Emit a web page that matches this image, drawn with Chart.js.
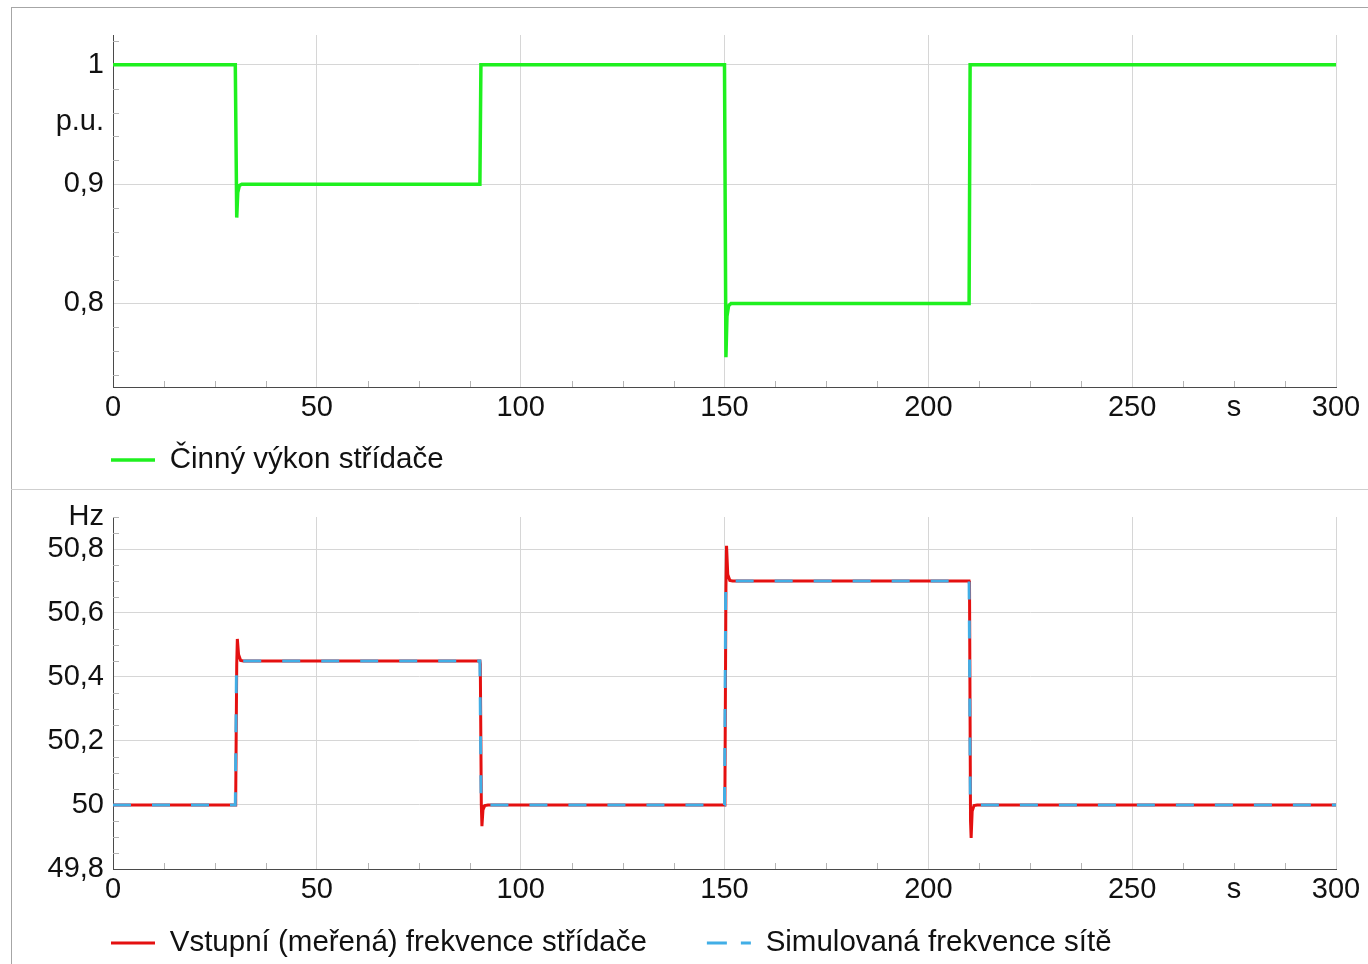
<!DOCTYPE html>
<html><head><meta charset="utf-8">
<script src="https://cdn.jsdelivr.net/npm/chart.js@4"></script>
<style>
html,body{margin:0;padding:0;background:#fff;width:1368px;height:964px;overflow:hidden;}
#frame{position:absolute;left:11px;top:7px;width:1357px;height:957px;border-left:1px solid #a6a6a6;border-top:1px solid #a6a6a6;box-sizing:border-box;}
#divider{position:absolute;left:11px;top:489px;width:1357px;height:0;border-top:1px solid #cfcfcf;}
#c1{position:absolute;left:12px;top:8px;}
#c2{position:absolute;left:12px;top:490px;}
</style></head><body>
<div id="frame"></div><div id="divider"></div>
<canvas id="c1" width="1356" height="481"></canvas>
<canvas id="c2" width="1356" height="474"></canvas>
<script>
// ---- data ----
const timeP  = [0, 30, 30.35, 30.6, 31, 31.6, 90, 90.25, 150, 150.35, 150.6, 151, 151.6, 210, 210.25, 300];
const powerP = [1, 1, 0.872, 0.893, 0.899, 0.9, 0.9, 1, 1, 0.755, 0.789, 0.798, 0.8, 0.8, 1, 1];

const timeMeas = [0, 30, 30.1, 30.35, 30.5, 30.8, 31.3, 32,
                  90, 90.1, 90.35, 90.5, 90.75, 91.2, 92,
                  150, 150.1, 150.35, 150.5, 150.8, 151.3, 152,
                  210, 210.1, 210.35, 210.5, 210.75, 211.2, 212, 300];
const freqMeas = [50, 50, 50.02, 50.44, 50.519, 50.47, 50.452, 50.45,
                  50.45, 50.44, 50.0, 49.934, 49.985, 49.998, 50,
                  50, 50.02, 50.68, 50.81, 50.72, 50.702, 50.7,
                  50.7, 50.69, 49.95, 49.897, 49.98, 49.998, 50, 50];

const timeSim = [0, 30, 30.3, 90, 90.3, 150, 150.3, 210, 210.3, 300];
const freqSim = [50, 50, 50.45, 50.45, 50, 50, 50.7, 50.7, 50, 50];

const xTickVals   = [0, 50, 100, 150, 200, 250, 275, 300];
const xTickLabels = ['0', '50', '100', '150', '200', '250', 's', '300'];
const pTickVals   = [0.8, 0.9, 0.9525, 1];
const pTickLabels = ['0,8', '0,9', 'p.u.', '1'];
const fTickVals   = [49.8, 50, 50.2, 50.4, 50.6, 50.8, 50.9];
const fTickLabels = ['49,8', '50', '50,2', '50,4', '50,6', '50,8', 'Hz'];
const unitLabels  = ['s', 'p.u.', 'Hz'];

const labelP    = 'Činný výkon střídače';
const labelMeas = 'Vstupní (meřená) frekvence střídače';
const labelSim  = 'Simulovaná frekvence sítě';

// ---- helpers ----
function pts(xs, ys) { return xs.map((x, i) => ({x: x, y: ys[i]})); }
function minorList(min, max, step, majorStep) {
  const out = [];
  const n = Math.round((max - min) / step);
  for (let i = 0; i <= n; i++) {
    const v = +(min + i * step).toFixed(6);
    const r = v / majorStep;
    if (Math.abs(r - Math.round(r)) > 1e-6) out.push(v);
  }
  return out;
}

const FONT = "'Liberation Sans', Arial, sans-serif";

const minorTicks = {
  id: 'minorTicks',
  beforeDatasetsDraw(chart, args, opts) {
    const {ctx, chartArea: a} = chart;
    const xs = chart.scales.x, ys = chart.scales.y;
    ctx.save();
    ctx.strokeStyle = opts.color;
    ctx.lineWidth = 1;
    ctx.beginPath();
    opts.xv.forEach(v => {
      const px = Math.round(xs.getPixelForValue(v)) + 0.5;
      ctx.moveTo(px, a.bottom); ctx.lineTo(px, a.bottom - opts.len);
    });
    opts.yv.forEach(v => {
      const py = Math.round(ys.getPixelForValue(v)) + 0.5;
      ctx.moveTo(a.left, py); ctx.lineTo(a.left + opts.len, py);
    });
    ctx.stroke();
    ctx.restore();
  }
};

const legendPlace = {
  id: 'legendPlace',
  beforeDraw(chart, args, opts) {
    const lg = chart.legend;
    if (!lg) return;
    const pad = lg.options.labels.padding;
    const fs = lg.options.labels.font.size;
    lg.left = chart.chartArea.left + opts.dx - pad;
    lg.top = chart.chartArea.bottom + opts.dy - pad - fs / 2;
  }
};

function gridColor(vals, labels) {
  return (ctx) => {
    if (!ctx.tick) return '#d6d6d6';
    const i = vals.indexOf(ctx.tick.value);
    if (i >= 0 && unitLabels.indexOf(labels[i]) >= 0) return 'rgba(0,0,0,0)';
    return '#d6d6d6';
  };
}

function legendLabels(chart) {
  const items = Chart.defaults.plugins.legend.labels.generateLabels(chart);
  items.forEach(it => {
    const ds = chart.data.datasets[it.datasetIndex];
    it.lineDash = ds.borderDash ? [20, 14] : [];
    it.lineWidth = ds.borderWidth;
    it.strokeStyle = ds.borderColor;
  });
  return items;
}

function makeOptions(yMin, yMax, yVals, yLabels, yMinor, legendMaxH, legendDy) {
  return {
    responsive: false,
    animation: false,
    events: [],
    devicePixelRatio: 1,
    layout: { padding: { top: 27, right: 32, bottom: 0, left: 0 } },
    elements: { point: { radius: 0 }, line: { tension: 0 } },
    scales: {
      x: {
        type: 'linear', min: 0, max: 300,
        afterBuildTicks: (s) => { s.ticks = xTickVals.map(v => ({value: v})); },
        afterFit: (s) => { s.height = 52; },
        ticks: {
          autoSkip: false, maxRotation: 0, padding: 4, color: '#111',
          font: { family: FONT, size: 29 },
          callback: (v) => { const i = xTickVals.indexOf(v); return i >= 0 ? xTickLabels[i] : ''; }
        },
        grid: { color: gridColor(xTickVals, xTickLabels), drawTicks: false, lineWidth: 1 },
        border: { display: true, color: '#4a4a4a', width: 1 }
      },
      y: {
        type: 'linear', min: yMin, max: yMax,
        afterBuildTicks: (s) => { s.ticks = yVals.map(v => ({value: v})); },
        afterFit: (s) => { s.width = 101; },
        ticks: {
          autoSkip: false, padding: 9, color: '#111',
          font: { family: FONT, size: 29 },
          callback: (v) => { const i = yVals.indexOf(v); return i >= 0 ? yLabels[i] : ''; }
        },
        grid: { color: gridColor(yVals, yLabels), drawTicks: false, lineWidth: 1 },
        border: { display: true, color: '#4a4a4a', width: 1 }
      }
    },
    plugins: {
      tooltip: { enabled: false },
      legend: {
        display: true, position: 'bottom', align: 'start', maxHeight: legendMaxH,
        labels: {
          usePointStyle: true, pointStyle: 'line', pointStyleWidth: 44,
          padding: 60, color: '#111',
          font: { family: FONT, size: 29.5 },
          generateLabels: legendLabels,
          sort: (a, b) => a.datasetIndex - b.datasetIndex
        }
      },
      legendPlace: { dx: -2, dy: legendDy },
      minorTicks: { xv: minorList(0, 300, 12.5, 50), yv: yMinor, len: 6, color: '#b4b4b4' }
    }
  };
}

Chart.register(minorTicks, legendPlace);

new Chart(document.getElementById('c1'), {
  type: 'line',
  data: {
    datasets: [{
      label: labelP,
      data: pts(timeP, powerP),
      borderColor: '#1ff01f',
      backgroundColor: '#1ff01f',
      borderWidth: 3.5,
      fill: false
    }]
  },
  options: makeOptions(0.73, 1.025, pTickVals, pTickLabels, minorList(0.74, 1.02, 0.02, 0.1), 50, 73)
});

new Chart(document.getElementById('c2'), {
  type: 'line',
  data: {
    datasets: [{
      label: labelMeas,
      data: pts(timeMeas, freqMeas),
      borderColor: '#e41010',
      backgroundColor: '#e41010',
      borderWidth: 3,
      fill: false,
      order: 1
    }, {
      label: labelSim,
      data: pts(timeSim, freqSim),
      borderColor: '#41aee6',
      backgroundColor: '#41aee6',
      borderWidth: 3,
      borderDash: [18, 21],
      fill: false,
      order: 0
    }]
  },
  options: makeOptions(49.8, 50.9, fTickVals, fTickLabels, minorList(49.8, 50.9, 0.05, 0.2), 43, 74)
});
</script>
</body></html>
